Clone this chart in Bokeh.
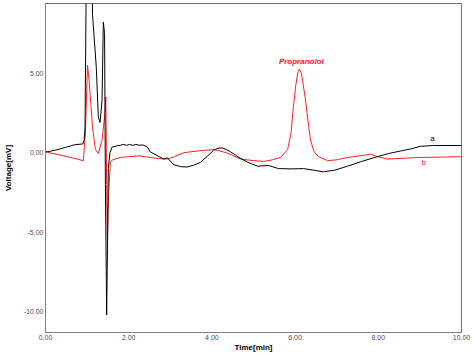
from bokeh.plotting import figure
from bokeh.models import Range1d, FixedTicker, NumeralTickFormatter, ColumnDataSource
from bokeh.core.properties import value
from bokeh.embed import file_html
from bokeh.resources import INLINE

# Trace a (black)
time_a = [0.00, 0.10, 0.30, 0.50, 0.70, 0.90, 0.93, 0.95, 0.99, 1.10, 1.13, 1.22, 1.27, 1.31,
          1.36, 1.39, 1.42, 1.44, 1.47, 1.49, 1.51, 1.55, 1.60, 1.70, 1.80, 1.88, 1.95, 2.02,
          2.10, 2.17, 2.25, 2.35, 2.45, 2.52, 2.70, 2.84, 2.93, 3.08, 3.25, 3.41, 3.55, 3.73,
          3.90, 4.04, 4.15, 4.25, 4.35, 4.45, 4.65, 4.86, 5.10, 5.36, 5.60, 5.90, 6.20, 6.45,
          6.68, 6.95, 7.26, 7.60, 7.98, 8.25, 8.53, 8.80, 9.01, 9.33, 9.70, 10.00]
volt_a = [0.05, 0.08, 0.20, 0.35, 0.50, 0.55, 0.80, 1.60, 14.0, 14.0, 8.70, 5.40, 2.25, 1.90,
          3.30, 8.20, 7.50, -2.00, -10.20, -6.00, -1.00, 0.00, 0.35, 0.42, 0.47, 0.52, 0.46, 0.52,
          0.46, 0.52, 0.47, 0.48, 0.35, 0.05, -0.20, -0.40, -0.32, -0.75, -0.88, -0.90, -0.80, -0.60,
          -0.20, 0.15, 0.28, 0.30, 0.20, 0.05, -0.30, -0.60, -0.85, -0.80, -1.00, -1.02, -1.00, -1.10,
          -1.20, -1.10, -0.85, -0.55, -0.25, -0.05, 0.10, 0.25, 0.40, 0.45, 0.45, 0.45]

# Trace b (red)
time_b = [0.00, 0.30, 0.60, 0.91, 0.96, 1.01, 1.05, 1.13, 1.20, 1.27, 1.36, 1.43, 1.45, 1.47,
          1.49, 1.51, 1.56, 1.61, 1.80, 2.00, 2.25, 2.52, 2.75, 2.93, 3.10, 3.32, 3.70, 4.04,
          4.35, 4.69, 5.00, 5.24, 5.45, 5.65, 5.82, 5.90, 5.96, 6.02, 6.07, 6.10, 6.15, 6.20,
          6.25, 6.31, 6.37, 6.45, 6.56, 6.78, 7.00, 7.26, 7.55, 7.81, 7.98, 8.22, 8.60, 9.00,
          9.50, 10.00]
volt_b = [0.05, -0.12, -0.30, -0.50, 1.25, 5.50, 4.50, 1.60, 0.20, -0.05, 0.80, 2.50, 3.50, -2.00,
          -5.50, -3.00, -0.60, -0.45, -0.30, -0.25, -0.20, -0.30, -0.38, -0.40, -0.25, 0.00, 0.12, 0.20,
          0.00, -0.40, -0.50, -0.55, -0.45, -0.30, 0.20, 1.20, 2.90, 4.30, 5.10, 5.25, 5.00, 4.20,
          3.30, 2.00, 0.80, 0.10, -0.25, -0.50, -0.45, -0.30, -0.20, -0.10, -0.25, -0.40, -0.35, -0.30,
          -0.28, -0.25]

x_ticks = [0, 2, 4, 6, 8, 10]
y_ticks = [-10, -5, 0, 5]

label_text = ["Propranolol", "a", "b"]
label_t = [6.15, 9.30, 9.09]
label_v = [5.70, 0.88, -0.62]
label_color = ["#ff2020", "#000000", "#ff2020"]
label_style = ["bold italic", "normal", "normal"]

p = figure(width=473, height=354, output_backend="svg", toolbar_location=None,
           x_range=Range1d(0, 10), y_range=Range1d(-11.3, 9.375),
           min_border_left=45, min_border_right=12, min_border_top=3, min_border_bottom=20)
p.background_fill_color = "white"
p.border_fill_color = "white"
p.outline_line_color = "#707070"
p.xgrid.visible = False
p.ygrid.visible = False

for ax in (p.xaxis[0], p.yaxis[0]):
    ax.major_tick_out = 0
    ax.major_tick_in = 0
    ax.minor_tick_out = 0
    ax.minor_tick_in = 0
    ax.axis_line_color = "#808080"
    ax.major_label_text_font = "Liberation Sans"
    ax.major_label_text_font_size = "7px"
    ax.major_label_text_color = "#505050"
    ax.axis_label_text_font = "Liberation Sans"
    ax.axis_label_text_font_size = "8px"
    ax.axis_label_text_font_style = "bold"
    ax.axis_label_text_color = "#000000"
    ax.formatter = NumeralTickFormatter(format="0.00")

p.xaxis.ticker = FixedTicker(ticks=x_ticks)
p.yaxis.ticker = FixedTicker(ticks=y_ticks)
p.xaxis.axis_label = "Time[min]"
p.yaxis.axis_label = "Voltage[mV]"
p.xaxis.major_label_standoff = 2
p.yaxis.major_label_standoff = 2
p.xaxis.axis_label_standoff = 0
p.yaxis.axis_label_standoff = 8

p.line(time_b, volt_b, line_color="#ff2020", line_width=1)
p.line(time_a, volt_a, line_color="#000000", line_width=1)

src = ColumnDataSource(dict(x=label_t, y=label_v, t=label_text, c=label_color, s=label_style))
p.text(x="x", y="y", text="t", text_color="c", text_font_style="s", source=src,
       text_font=value("Liberation Sans"), text_font_size="8px",
       text_align="center", text_baseline="middle")

open("out.html", "w").write(file_html(p, INLINE))
